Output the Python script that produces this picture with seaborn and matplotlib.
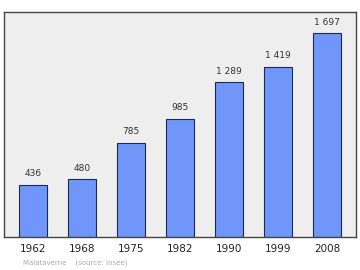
import matplotlib
matplotlib.use("Agg")
import matplotlib.pyplot as plt
import seaborn as sns
import pandas as pd

years = ["1962", "1968", "1975", "1982", "1990", "1999", "2008"]
population = [436, 480, 785, 985, 1289, 1419, 1697]
value_labels = ["436", "480", "785", "985", "1 289", "1 419", "1 697"]

sns.set_style("white")
plt.rcParams['font.family'] = ['DejaVu Sans']

fig = plt.figure(figsize=(3.6, 2.7), dpi=100)
ax = fig.add_axes([0.011, 0.122, 0.978, 0.834])
df = pd.DataFrame({"year": years, "pop": population})
sns.barplot(data=df, x="year", y="pop", ax=ax, color="#7096fa", saturation=1,
            width=0.58, edgecolor="#1c2a50", linewidth=0.8)
ax.set_facecolor("#eeeeee")
ax.set_xlim(-0.59, 6.59)
ax.set_ylim(0, 1875)
ax.set_yticks([])
ax.set_xlabel("")
ax.set_ylabel("")
for s in ax.spines.values():
    s.set_color("#444444")
    s.set_linewidth(1.0)
ax.tick_params(axis="x", length=0, labelsize=7.5, pad=5, colors="#222222")
for i, (v, lab) in enumerate(zip(population, value_labels)):
    ax.text(i, v + 55, lab, ha="center", va="bottom", fontsize=6.5, color="#333333")
fig.text(23/360, 1 - 263/270, "Malataverne    (source: Insee)", fontsize=5, color="#aaaaaa",
         ha="left", va="center")
fig.savefig("out.png", dpi=100)
